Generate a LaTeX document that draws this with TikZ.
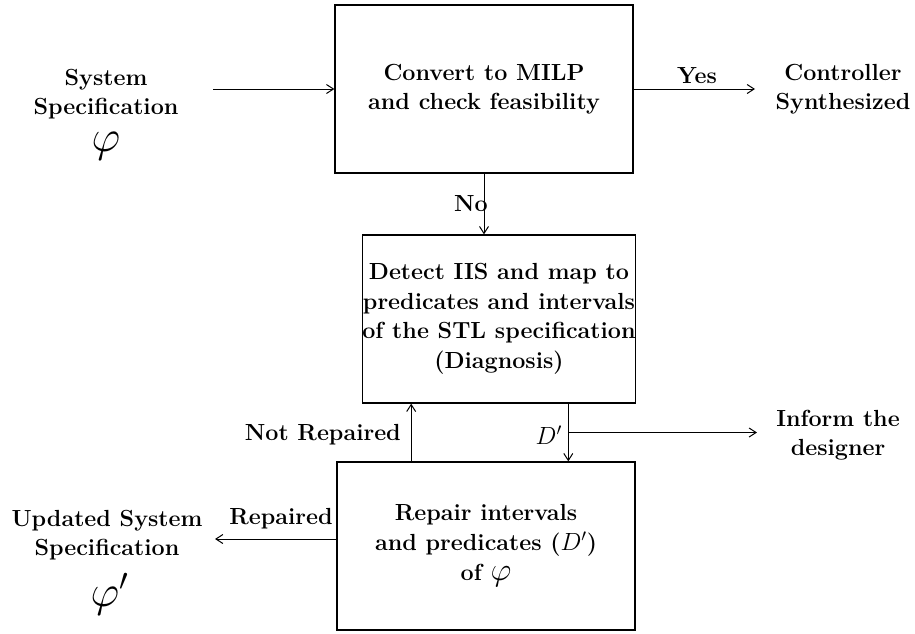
\documentclass[tikz,border=0pt]{standalone}
\usepackage{fontspec}
\usetikzlibrary{arrows.meta,calc}

\newcommand{\txtfont}{\fontsize{23.3}{29.5}\selectfont\bfseries}
\newcommand{\bigphi}{\scalebox{1.3}{$\varphi$}}

\tikzset{
  box/.style={draw, line width=1.3pt, align=center, font=\txtfont,
              minimum height=168pt, inner sep=0pt},
  lbl/.style={align=center, font=\txtfont, inner sep=0pt},
  sym/.style={font=\Large, scale=3.1, inner sep=0pt},
  arr/.style={line width=1pt, -{Straight Barb[length=7pt,width=9pt,line width=1pt]}}
}

\begin{document}
\begin{tikzpicture}[x=1pt, y=-1pt]
  \useasboundingbox (0,0) rectangle (915,633);

  % process boxes
  \node[box, minimum width=298pt] (conv) at (484,89)
    {Convert to MILP\\and check feasibility};
  \node[box, minimum width=272pt] (diag) at (499,319)
    {Detect IIS and map to\\predicates and intervals\\of the STL specification\\(Diagnosis)};
  \node[box, minimum width=298pt] (repair) at (486,546)
    {Repair intervals\\and predicates ($D'$)\\[1pt]of \bigphi};

  % outside labels
  \node[lbl] (spec) at (106,94) {System\\Specification};
  \node[sym] (specphi) at (106,146) {$\varphi$};
  \node[lbl] (ctrl) at (843,89) {Controller\\Synthesized};
  \node[lbl] (inform) at (838,435) {Inform the\\designer};
  \node[lbl] (upd) at (107,535) {Updated System\\Specification};
  \node[sym] (updphi) at (110,594) {$\varphi'$};

  % edge labels
  \node[lbl] (yes) at (697,76) {Yes};
  \node[lbl] (no) at (471,204) {No};
  \node[lbl, anchor=east] (notrep) at (401,435) {Not Repaired};
  \node[lbl, anchor=east] (dprime) at (562,435) {$D'$};
  \node[lbl] (rep) at (281,519) {Repaired};

  % free ends of connectors
  \coordinate (specout) at (213,89);
  \coordinate (yesend) at (755,89);
  \coordinate (nrx) at ($(repair.north west)!0.25!(repair.north east)$);
  \coordinate (dx) at ($(repair.north west)!0.775!(repair.north east)$);
  \coordinate (dsplit) at ($(dx |- diag.south)!0.5!(dx)$);
  \coordinate (infoend) at (757,0);
  \coordinate (repend) at (215,539);

  % connectors
  \draw[arr] (specout) -- (conv.west);
  \draw[arr] (conv.east) -- (yesend);
  \draw[arr] (conv.south) -- (conv.south |- diag.north);
  \draw[arr] (nrx) -- (nrx |- diag.south);
  \draw[arr] (dx |- diag.south) -- (dx);
  \draw[arr] (dsplit) -- (dsplit -| infoend);
  \draw[arr] (repair.west |- repend) -- (repend);
\end{tikzpicture}
\end{document}
